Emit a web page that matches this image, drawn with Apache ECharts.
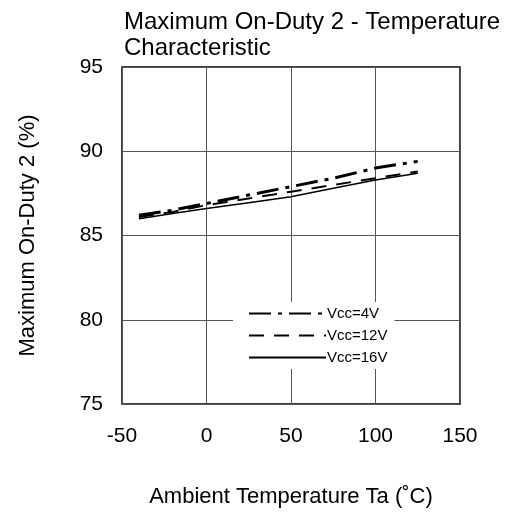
<!DOCTYPE html>
<html><head><meta charset="utf-8">
<script src="https://cdn.jsdelivr.net/npm/echarts@6/dist/echarts.min.js"></script>
<style>html,body{margin:0;padding:0;background:#fff}#c{width:529px;height:516px}</style>
</head><body><div id="c"></div>
<script>
const temps = [-40, -20, 0, 25, 50, 75, 100, 125];
const vcc4 = [86.2, 86.5, 86.9, 87.4, 87.9, 88.4, 89.0, 89.4];
const vcc12 = [86.1, 86.4, 86.8, 87.2, 87.6, 88.0, 88.4, 88.8];
const vcc16 = [86.0, 86.3, 86.6, 86.95, 87.3, 87.8, 88.3, 88.7];
const names = ['Vcc=4V', 'Vcc=12V', 'Vcc=16V'];
const pair = (a) => temps.map((t, i) => [t, a[i]]);
const font = 'Liberation Sans, Arial, sans-serif';
const chart = echarts.init(document.getElementById('c'));
chart.setOption({
  animation: false,
  title: {
    text: 'Maximum On-Duty 2 - Temperature\nCharacteristic',
    left: 119, top: 4,
    textStyle: {fontFamily: font, fontSize: 24, fontWeight: 'normal', color: '#000', lineHeight: 26}
  },
  grid: {left: 122, right: 69, top: 67, bottom: 112, show: true, borderColor: '#000', borderWidth: 1.5},
  legend: {
    orient: 'vertical', left: 233, top: 302,
    itemWidth: 77, itemHeight: 14, itemGap: 7,
    backgroundColor: '#fff', padding: [4, 7, 4, 15],
    itemStyle: {opacity: 0},
    textStyle: {fontFamily: font, fontSize: 15, color: '#000', padding: [0, 0, 0, -4]},
    data: names
  },
  xAxis: {
    type: 'value', min: -50, max: 150, interval: 50,
    name: 'Ambient Temperature Ta (˚C)', nameLocation: 'middle', nameGap: 82,
    nameTextStyle: {fontFamily: font, fontSize: 22, color: '#000'},
    axisLine: {show: false},
    axisTick: {show: false},
    axisLabel: {fontFamily: font, fontSize: 21, color: '#000', margin: 22},
    splitLine: {show: true, lineStyle: {color: '#555', width: 1}}
  },
  yAxis: {
    type: 'value', min: 75, max: 95, interval: 5,
    name: 'Maximum On-Duty 2 (%)', nameLocation: 'middle', nameGap: 83,
    nameTextStyle: {fontFamily: font, fontSize: 22, color: '#000'},
    axisLine: {show: false},
    axisTick: {show: false},
    axisLabel: {fontFamily: font, fontSize: 21, color: '#000', margin: 19},
    splitLine: {show: true, lineStyle: {color: '#555', width: 1}}
  },
  series: [
    {name: names[0], type: 'line', symbol: 'none', data: pair(vcc4),
     lineStyle: {color: '#000', width: 3, type: [22, 7, 4, 7]}, itemStyle: {color: '#000'}},
    {name: names[1], type: 'line', symbol: 'none', data: pair(vcc12),
     lineStyle: {color: '#000', width: 2, type: [15, 10]}, itemStyle: {color: '#000'}},
    {name: names[2], type: 'line', symbol: 'none', data: pair(vcc16),
     lineStyle: {color: '#000', width: 1.5, type: 'solid'}, itemStyle: {color: '#000'}}
  ]
});
</script></body></html>
